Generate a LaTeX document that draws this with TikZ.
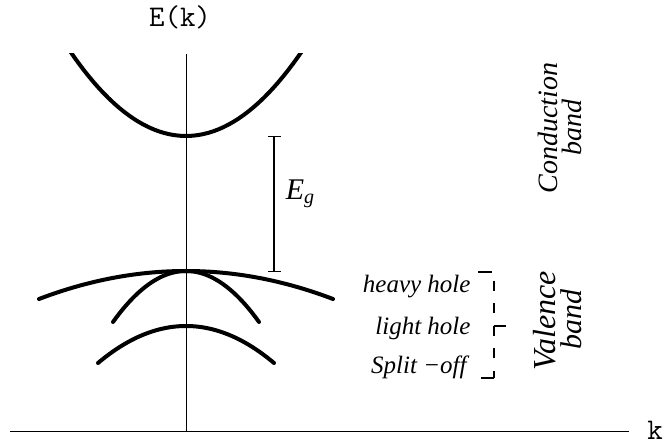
\documentclass[tikz,border=0pt]{standalone}
\usepackage{fontspec}
\setmainfont{Liberation Serif}
\usetikzlibrary{arrows.meta}
\begin{document}
\begin{tikzpicture}[x=0.4pt,y=-0.4pt,
  band/.style={line width=1.6pt,line cap=round},
  lbl/.style={anchor=east,inner sep=0pt,font=\itshape\fontsize{10}{12}\selectfont},
  bandname/.style={rotate=90,anchor=base,inner sep=0pt,font=\itshape\fontsize{#1}{12}\selectfont}]
\useasboundingbox (0,0) rectangle (666,444);
\draw[line width=0.4pt] (10,432) -- (629,432);
\draw[line width=0.4pt] (186,54) -- (186,432);
\node[anchor=base,font=\ttfamily\fontsize{12}{14}\selectfont] (ek) at (180,27) {E(k)};
\node[anchor=base,font=\ttfamily\fontsize{12}{14}\selectfont] (k) at (655,440) {k};
\begin{scope}
\clip (0,54) rectangle (666,444);
\draw[band] plot[domain=-122:122,samples=50] ({186+\x},{136-82*(\x/114)^2});
\end{scope}
\foreach \yc/\w/\hh in {271/147/28,271/73/51,326/88/37}
  \draw[band] plot[domain=-\w:\w,samples=50] ({186+\x},{\yc+\hh*(\x/\w)^2});
\draw[{Bar[width=5.2pt]}-{Bar[width=5.2pt]},line width=0.5pt] (274,136) -- (274,272);
\node[anchor=west,font=\fontsize{12}{14}\selectfont] (eg) at (277,194) {\textit{E}\textsubscript{\textit{g}}};
\node[lbl] (heavy) at (471,287) {heavy hole};
\node[lbl] (light) at (471,328) {light hole};
\node[lbl] (split) at (467,367) {Split −off};
\draw[line width=0.5pt] (478,272) -- (492,272);
\draw[line width=0.5pt] (481,378) -- (494,378);
\draw[line width=0.5pt] (494,326) -- (506,326);
\draw[line width=0.5pt,dash pattern=on 4pt off 5pt] (494,281) -- (494,378);
\node[bandname=11.2] (cond) at (557,128) {Conduction};
\node[bandname=11.2] (condb) at (581,128) {band};
\node[bandname=12.8] (val) at (555,321) {Valence};
\node[bandname=12] (valb) at (581,320) {band};
\end{tikzpicture}
\end{document}
